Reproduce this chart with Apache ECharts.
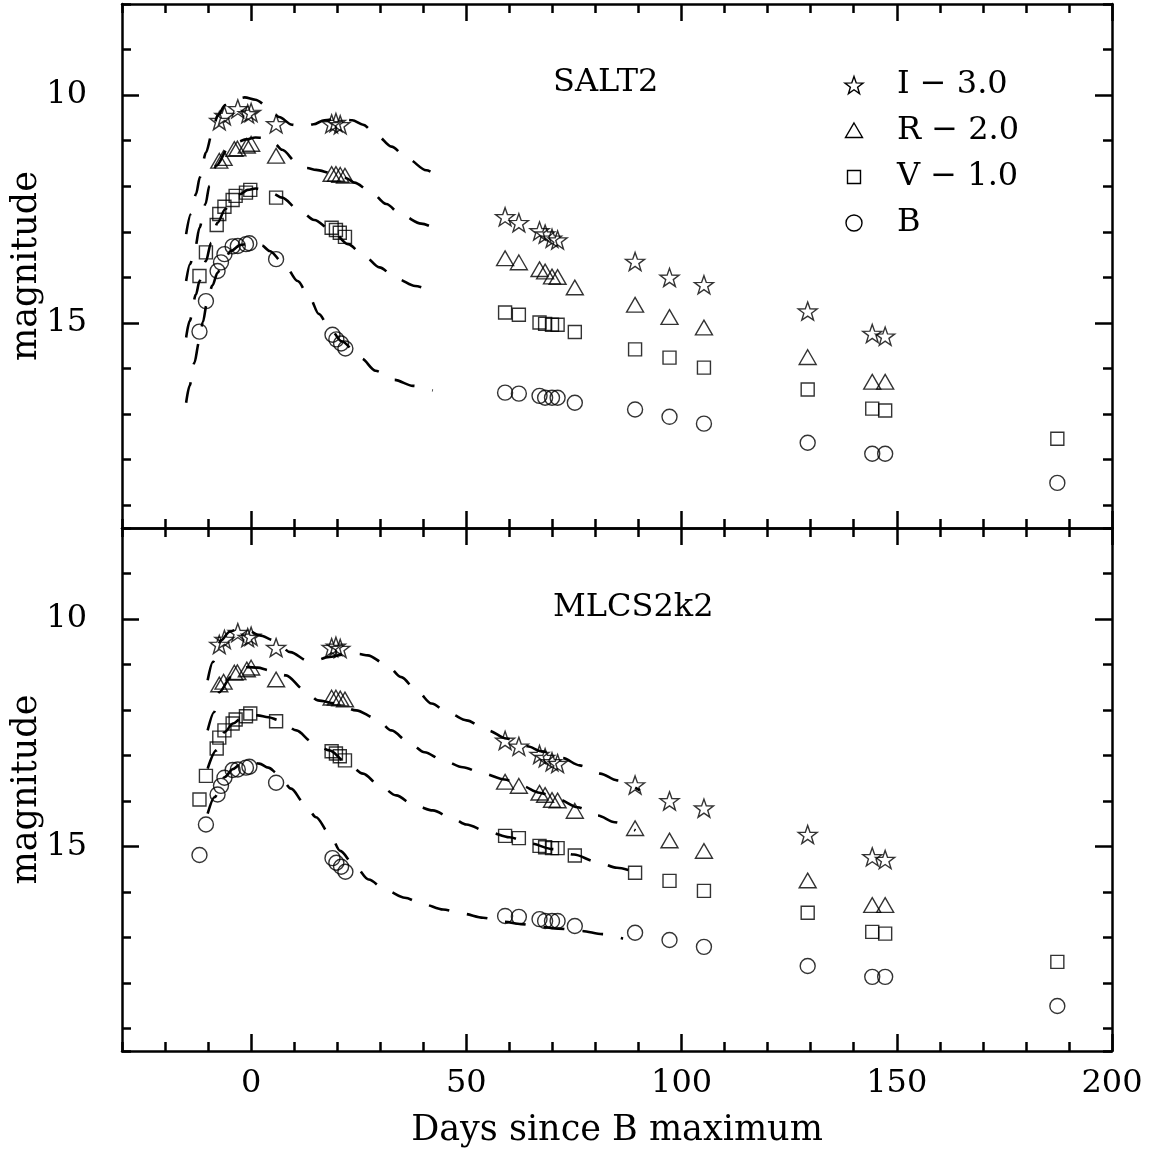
<!DOCTYPE html>
<html>
<head>
<meta charset="utf-8">
<script src="https://cdn.jsdelivr.net/npm/echarts@6/dist/echarts.min.js"></script>
<style>html,body{margin:0;padding:0;background:#fff;}#chart{width:1153px;height:1153px;}</style>
</head>
<body>
<div id="chart"></div>
<script>
// ---------- tick labels ----------
const xMajor = [0, 50, 100, 150, 200];
const yMajor = [10, 15];

// ---------- observed photometry (plotted values: I-3.0, R-2.0, V-1.0, B) ----------
const iDays = [-7.4, -6.2, -3.1, -0.8, 0.0, 5.8, 18.7, 19.7, 20.7, 59.0, 62.2, 67.0, 68.3, 69.9, 71.2, 89.2, 97.2, 105.2, 129.3, 144.3, 147.3];
const iMag  = [10.56, 10.45, 10.30, 10.41, 10.38, 10.63, 10.63, 10.60, 10.65, 12.67, 12.80, 12.98, 13.05, 13.14, 13.18, 13.65, 14.00, 14.16, 14.74, 15.23, 15.29];

const rDays = [-7.4, -6.4, -3.9, -3.2, -1.0, 0.0, 5.8, 18.7, 19.7, 20.7, 21.8, 59.0, 62.2, 67.0, 68.3, 69.9, 71.2, 75.2, 89.2, 97.2, 105.2, 129.3, 144.3, 147.3];
const rMag  = [11.44, 11.38, 11.18, 11.17, 11.11, 11.07, 11.33, 11.73, 11.73, 11.75, 11.77, 13.58, 13.67, 13.82, 13.87, 13.98, 13.99, 14.22, 14.60, 14.87, 15.10, 15.75, 16.29, 16.29];

const vDays = [-12.0, -10.5, -8.0, -7.4, -6.2, -4.3, -3.6, -1.2, -0.2, 5.8, 18.7, 19.7, 20.6, 21.8, 59.0, 62.2, 67.0, 68.3, 69.9, 71.2, 75.2, 89.2, 97.2, 105.2, 129.3, 144.3, 147.3, 187.3];
const vMag  = [13.97, 13.45, 12.85, 12.61, 12.45, 12.30, 12.21, 12.14, 12.08, 12.25, 12.91, 12.96, 13.02, 13.11, 14.77, 14.82, 14.99, 15.02, 15.04, 15.04, 15.20, 15.58, 15.76, 15.98, 16.46, 16.88, 16.92, 17.54];

const bDays = [-12.0, -10.5, -7.8, -7.0, -6.2, -4.3, -3.1, -1.2, -0.4, 5.8, 18.9, 19.8, 20.9, 21.9, 59.0, 62.2, 67.0, 68.3, 69.9, 71.2, 75.2, 89.2, 97.2, 105.2, 129.3, 144.3, 147.3, 187.3];
const bMag  = [15.19, 14.52, 13.86, 13.67, 13.49, 13.32, 13.31, 13.27, 13.25, 13.60, 15.26, 15.36, 15.45, 15.56, 16.53, 16.55, 16.60, 16.64, 16.64, 16.64, 16.75, 16.90, 17.06, 17.21, 17.63, 17.87, 17.87, 18.51];

// ---------- SALT2 model curves ----------
const saltIDays = [-15.1, -14.0, -12.8, -11.9, -10.5, -9.1, -7.8, -6.0, -4.0, -1.5, 1.0, 3.9, 6.5, 9.5, 12.0, 14.5, 17.0, 20.5, 23.5, 26.0, 29.1, 32.6, 36.4, 40.7, 44.6];
const saltIMag  = [13.05, 12.61, 12.17, 11.80, 11.26, 10.85, 10.45, 10.22, 10.10, 10.05, 10.10, 10.25, 10.48, 10.65, 10.70, 10.64, 10.55, 10.52, 10.55, 10.65, 10.87, 11.13, 11.40, 11.65, 11.88];

const saltRDays = [-15.1, -14.2, -13.0, -12.0, -10.6, -9.7, -8.1, -5.4, -3.0, -1.2, 1.0, 3.1, 5.5, 7.2, 10.8, 13.0, 15.1, 19.0, 22.0, 24.0, 27.7, 31.4, 34.9, 39.5, 43.8];
const saltRMag  = [14.08, 13.71, 13.35, 12.91, 12.39, 11.99, 11.55, 11.18, 11.02, 10.97, 10.93, 10.94, 11.07, 11.20, 11.50, 11.60, 11.64, 11.72, 11.82, 11.92, 12.11, 12.39, 12.63, 12.82, 12.98];

const saltVDays = [-15.1, -14.3, -12.8, -12.0, -10.5, -9.3, -7.8, -6.0, -4.7, -2.5, -0.8, 1.0, 3.1, 5.0, 7.2, 11.1, 14.7, 18.6, 22.5, 26.3, 29.8, 33.9, 38.1, 42.8];
const saltVMag  = [15.32, 14.96, 14.37, 14.08, 13.64, 13.24, 12.80, 12.50, 12.36, 12.17, 12.08, 12.05, 12.08, 12.16, 12.25, 12.52, 12.74, 12.96, 13.27, 13.53, 13.78, 14.03, 14.19, 14.35];

const saltBDays = [-15.1, -14.3, -13.2, -12.1, -11.2, -10.3, -9.0, -7.8, -6.6, -4.7, -2.5, 0.4, 2.5, 4.3, 7.7, 10.8, 13.6, 15.7, 18.2, 21.0, 25.6, 28.9, 33.3, 37.6, 42.2];
const saltBMag  = [16.75, 16.38, 15.88, 15.42, 14.98, 14.58, 14.18, 13.90, 13.68, 13.42, 13.29, 13.24, 13.30, 13.42, 13.71, 14.08, 14.44, 14.80, 15.10, 15.40, 15.78, 16.05, 16.25, 16.38, 16.48];

// ---------- MLCS2k2 model curves ----------
const mlcsIDays = [-10.1, -8.9, -7.0, -5.0, -3.0, -0.4, 2.0, 5.4, 9.1, 13.4, 15.5, 17.8, 22.5, 25.0, 27.1, 31.4, 34.9, 38.4, 41.9, 46.1, 50.0, 55.0, 59.3, 64.2, 67.5, 72.4, 76.3, 81.1, 85.0, 90.3];
const mlcsIMag  = [11.35, 10.95, 10.47, 10.28, 10.22, 10.27, 10.36, 10.47, 10.73, 10.93, 10.90, 10.84, 10.77, 10.77, 10.80, 11.00, 11.28, 11.57, 11.86, 12.08, 12.23, 12.45, 12.63, 12.80, 12.91, 13.06, 13.22, 13.40, 13.55, 13.77];

const mlcsRDays = [-10.1, -8.6, -7.4, -4.7, -2.5, -0.8, 1.5, 4.3, 8.1, 12.4, 15.5, 19.8, 24.4, 29.1, 32.6, 36.8, 40.3, 44.6, 49.2, 53.9, 58.9, 62.7, 67.0, 71.5, 75.8, 80.5, 84.5, 89.3];
const mlcsRMag  = [12.45, 12.05, 11.61, 11.28, 11.12, 11.06, 11.07, 11.13, 11.24, 11.56, 11.79, 11.86, 12.01, 12.19, 12.45, 12.73, 12.93, 13.11, 13.26, 13.40, 13.53, 13.66, 13.82, 13.97, 14.14, 14.32, 14.47, 14.65];

const mlcsVDays = [-10.1, -8.1, -6.2, -4.2, -2.3, 0.0, 1.5, 4.0, 6.6, 10.5, 14.3, 18.2, 22.1, 26.0, 29.8, 33.7, 38.0, 42.2, 46.9, 50.0, 55.0, 60.0, 65.0, 70.0, 75.0, 80.0, 85.0, 90.3];
const mlcsVMag  = [13.29, 12.89, 12.49, 12.30, 12.19, 12.13, 12.12, 12.16, 12.23, 12.45, 12.71, 12.89, 13.15, 13.40, 13.66, 13.88, 14.10, 14.21, 14.39, 14.52, 14.68, 14.80, 14.94, 15.06, 15.18, 15.33, 15.47, 15.60];

const mlcsBDays = [-10.1, -8.5, -6.2, -4.2, -2.3, 0.0, 1.9, 4.0, 6.2, 9.3, 12.4, 15.1, 18.2, 20.7, 24.0, 27.3, 31.4, 35.7, 39.9, 44.6, 49.2, 53.9, 58.9, 62.7, 67.1, 71.4, 76.7, 81.6, 86.4];
const mlcsBMag  = [14.28, 13.92, 13.48, 13.30, 13.18, 13.15, 13.18, 13.27, 13.40, 13.73, 14.06, 14.36, 14.72, 15.10, 15.42, 15.73, 15.97, 16.13, 16.27, 16.39, 16.48, 16.57, 16.66, 16.71, 16.77, 16.81, 16.86, 16.93, 17.03];

const bandNames = ['I \u2212 3.0', 'R \u2212 2.0', 'V \u2212 1.0', 'B'];
const panelTitles = ['SALT2', 'MLCS2k2'];

// ---------- styling ----------
const FONT = 'DejaVu Serif';
const STAR = 'path://M50 0L61.76 33.82L97.55 34.55L69.02 56.18L79.39 90.45L50 70L20.61 90.45L30.98 56.18L2.45 34.55L38.24 33.82Z';
const TRI = 'path://M50 0L100 86.6L0 86.6Z';
const AX = {color: '#000', width: 2.5};

function xAxes(grid, withLabels) {
  const minor = pos => ({
    gridIndex: grid, type: 'value', min: -30, max: 200, interval: 10, position: pos,
    axisLine: {show: true, onZero: false, lineStyle: AX},
    axisTick: {show: true, inside: true, length: 9, lineStyle: AX},
    axisLabel: {show: false}, splitLine: {show: false}
  });
  const major = (pos, labels) => ({
    gridIndex: grid, type: 'value', min: -30, max: 200, position: pos,
    axisLine: {show: false, onZero: false},
    axisTick: {show: true, inside: true, length: 17, lineStyle: AX, customValues: xMajor},
    axisLabel: {show: labels, customValues: xMajor, fontFamily: FONT, fontSize: 32, color: '#000', margin: 17},
    splitLine: {show: false},
    name: labels ? 'Days since B maximum' : '',
    nameLocation: 'middle', nameGap: 62, nameMoveOverlap: false,
    nameTextStyle: {fontFamily: FONT, fontSize: 35, color: '#000'}
  });
  return [minor('bottom'), major('bottom', withLabels), minor('top'), major('top', false)];
}
function yAxes(grid) {
  const minor = pos => ({
    gridIndex: grid, type: 'value', inverse: true, min: 8, max: 19.5, interval: 1, position: pos,
    axisLine: {show: true, onZero: false, lineStyle: AX},
    axisTick: {show: true, inside: true, length: 9, lineStyle: AX},
    axisLabel: {show: false}, splitLine: {show: false}
  });
  const major = (pos, labels) => ({
    gridIndex: grid, type: 'value', inverse: true, min: 8, max: 19.5, position: pos,
    axisLine: {show: false, onZero: false},
    axisTick: {show: true, inside: true, length: 17, lineStyle: AX, customValues: yMajor},
    axisLabel: {show: labels, customValues: yMajor, fontFamily: FONT, fontSize: 32, color: '#000', margin: 35},
    splitLine: {show: false},
    name: labels ? 'magnitude' : '',
    nameLocation: 'middle', nameRotate: 90, nameGap: 78, nameMoveOverlap: false,
    nameTextStyle: {fontFamily: FONT, fontSize: 35, color: '#000'}
  });
  return [minor('left'), major('left', true), minor('right'), major('right', false)];
}

function pts(name, days, mags, sym, size, xi, yi) {
  return {
    type: 'scatter', name: name, xAxisIndex: xi, yAxisIndex: yi,
    data: days.map((d, k) => [d, mags[k]]),
    symbol: sym, symbolSize: size, symbolKeepAspect: true,
    itemStyle: {color: 'rgba(0,0,0,0)', borderColor: '#000', borderWidth: 1.4},
    silent: true, z: 3
  };
}
function curve(days, mags, xi, yi) {
  return {
    type: 'line', xAxisIndex: xi, yAxisIndex: yi,
    data: days.map((d, k) => [d, mags[k]]),
    symbol: 'none', showSymbol: false, smooth: 0.3, smoothMonotone: 'x',
    lineStyle: {color: '#000', width: 2.6, type: [21, 18], cap: 'butt'},
    silent: true, z: 2
  };
}

const series = [];
[0, 1].forEach(p => {
  const xi = p * 4, yi = p * 4;
  series.push(pts(bandNames[0], iDays, iMag, STAR, 19, xi, yi));
  series.push(pts(bandNames[1], rDays, rMag, TRI, 17, xi, yi));
  series.push(pts(bandNames[2], vDays, vMag, 'rect', 13, xi, yi));
  series.push(pts(bandNames[3], bDays, bMag, 'circle', 15, xi, yi));
});
series.push(curve(saltIDays, saltIMag, 0, 0));
series.push(curve(saltRDays, saltRMag, 0, 0));
series.push(curve(saltVDays, saltVMag, 0, 0));
series.push(curve(saltBDays, saltBMag, 0, 0));
series.push(curve(mlcsIDays, mlcsIMag, 4, 4));
series.push(curve(mlcsRDays, mlcsRMag, 4, 4));
series.push(curve(mlcsVDays, mlcsVMag, 4, 4));
series.push(curve(mlcsBDays, mlcsBMag, 4, 4));

// ---------- legend (drawn as graphic, top panel) ----------
function starPts(cx, cy, R) {
  const out = [];
  for (let k = 0; k < 10; k++) {
    const a = -Math.PI / 2 + k * Math.PI / 5;
    const r = k % 2 === 0 ? R : R * 0.4;
    out.push([cx + r * Math.cos(a), cy + r * Math.sin(a)]);
  }
  return out;
}
const LX = 854, LT = 897, LY = [85, 131, 177, 223];
const stroke = {fill: 'none', stroke: '#000', lineWidth: 1.4};
const graphic = [
  {type: 'polygon', shape: {points: starPts(LX, LY[0] + 1, 9.5)}, style: stroke},
  {type: 'polygon', shape: {points: [[LX, LY[1] - 8], [LX + 8.5, LY[1] + 6.5], [LX - 8.5, LY[1] + 6.5]]}, style: stroke},
  {type: 'rect', shape: {x: LX - 6.5, y: LY[2] - 6.5, width: 13, height: 13}, style: stroke},
  {type: 'circle', shape: {cx: LX, cy: LY[3], r: 8}, style: stroke}
];
bandNames.forEach((n, k) => {
  graphic.push({type: 'text', x: LT, y: LY[k], style: {text: n, fontFamily: FONT, fontSize: 32, fill: '#000', align: 'left', verticalAlign: 'middle'}});
});

const option = {
  backgroundColor: '#fff',
  animation: false,
  title: [
    {text: panelTitles[0], left: 553, top: 67, padding: 0, textStyle: {fontFamily: FONT, fontSize: 32, fontWeight: 'normal', color: '#000'}},
    {text: panelTitles[1], left: 553, top: 592, padding: 0, textStyle: {fontFamily: FONT, fontSize: 32, fontWeight: 'normal', color: '#000'}}
  ],
  grid: [
    {left: 122, right: 41, top: 4, height: 524, containLabel: false, outerBoundsMode: 'none'},
    {left: 122, right: 41, top: 528, height: 523, containLabel: false, outerBoundsMode: 'none'}
  ],
  xAxis: xAxes(0, false).concat(xAxes(1, true)),
  yAxis: yAxes(0).concat(yAxes(1)),
  series: series,
  graphic: graphic
};

const chart = echarts.init(document.getElementById('chart'), null, {renderer: 'canvas'});
chart.setOption(option);
</script>
</body>
</html>
